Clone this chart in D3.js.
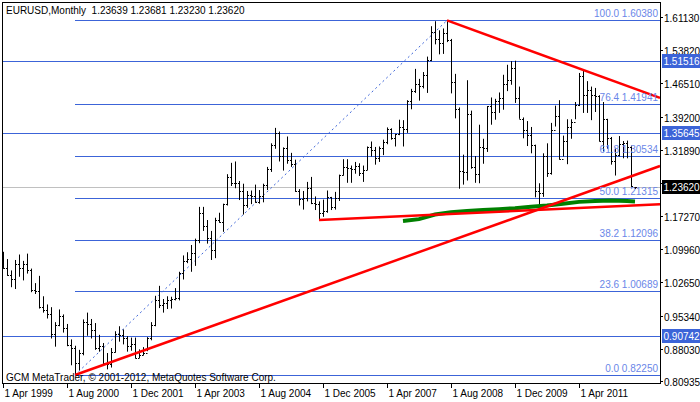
<!DOCTYPE html>
<html><head><meta charset="utf-8">
<script src="https://cdn.jsdelivr.net/npm/d3@7"></script>
<style>body{margin:0;background:#fff}svg{display:block;font-family:"Liberation Sans",Arial,sans-serif}</style>
</head><body><svg id="c" width="700" height="402"></svg>
<script>
// Monthly bars from Apr 1999 (index 0) to Jun 2012 (index 158)
const opens=[1.0765,1.0575,1.0430,1.0330,1.0680,1.0590,1.0680,1.0550,1.0090,
1.0070,0.9730,0.9650,0.9570,0.9120,0.9330,0.9530,0.9270,0.8880,0.8830,0.8480,0.8710,
0.9390,0.9340,0.9210,0.8810,0.8870,0.8480,0.8470,0.8740,0.9120,0.9110,0.9040,0.8870,
0.8900,0.8600,0.8670,0.8720,0.9030,0.9330,0.9870,0.9770,0.9810,0.9870,0.9890,0.9930,
1.0480,1.0730,1.0780,1.0910,1.1190,1.1800,1.1500,1.1240,1.0990,1.1650,1.1590,1.1990,
1.2590,1.2460,1.2460,1.2290,1.1970,1.2200,1.2160,1.2030,1.2170,1.2420,1.2770,1.3290,
1.3550,1.3040,1.3230,1.2960,1.2870,1.2290,1.2100,1.2130,1.2340,1.2020,1.1990,1.1790,
1.1840,1.2150,1.1920,1.2120,1.2630,1.2810,1.2790,1.2760,1.2820,1.2670,1.2740,1.3250,
1.3190,1.3000,1.3230,1.3350,1.3650,1.3450,1.3530,1.3680,1.3640,1.4260,1.4480,1.4640,
1.4590,1.4840,1.5170,1.5790,1.5620,1.5550,1.5760,1.5610,1.4670,1.4080,1.2720,1.2700,
1.3970,1.2810,1.2660,1.3250,1.3230,1.4150,1.4030,1.4260,1.4330,1.4640,1.4720,1.5000,
1.4330,1.3870,1.3630,1.3510,1.3290,1.2270,1.2230,1.3050,1.2680,1.3630,1.3940,1.2980,
1.3380,1.3700,1.3810,1.4170,1.4810,1.4390,1.4500,1.4390,1.4380,1.3390,1.3860,1.3450,
1.2950,1.3080,1.3320,1.3340,1.3240,1.23639];
const highs=[1.0940,1.0780,1.0530,1.0760,1.0880,1.0740,1.0900,1.0570,1.0250,
1.0410,0.9960,0.9780,0.9720,0.9390,0.9670,0.9560,0.9350,0.9010,0.8870,0.8780,0.9450,
0.9600,0.9460,0.9370,0.9110,0.8930,0.8710,0.8820,0.9190,0.9300,0.9230,0.9080,0.9050,
0.9050,0.8790,0.8840,0.9060,0.9390,0.9970,1.0190,0.9900,0.9960,0.9950,1.0140,1.0500,
1.0860,1.0930,1.1090,1.1230,1.1930,1.1930,1.1640,1.1400,1.1690,1.1800,1.2000,1.2650,
1.2900,1.2930,1.2500,1.2440,1.2280,1.2290,1.2420,1.2300,1.2440,1.2810,1.3330,1.3670,
1.3590,1.3240,1.3480,1.3120,1.2970,1.2320,1.2280,1.2480,1.2590,1.2160,1.2050,1.2090,
1.2290,1.2150,1.2260,1.2640,1.2980,1.2980,1.2840,1.2920,1.2890,1.2840,1.3260,1.3370,
1.3250,1.3260,1.3410,1.3680,1.3660,1.3540,1.3850,1.3840,1.4280,1.4530,1.4970,1.4750,
1.4900,1.5240,1.5910,1.6020,1.5820,1.5860,1.6038,1.5630,1.4860,1.4120,1.3080,1.4720,
1.4050,1.3050,1.3740,1.3430,1.4150,1.4340,1.4310,1.4450,1.4840,1.5060,1.5140,1.5150,
1.4580,1.3900,1.3820,1.3690,1.3300,1.2450,1.3110,1.3330,1.3780,1.4160,1.4280,1.3500,
1.3860,1.3860,1.4240,1.4880,1.4940,1.4700,1.4580,1.4550,1.4390,1.4240,1.3870,1.3470,
1.3230,1.3490,1.3380,1.3390,1.3280,1.23681];
const lows=[1.0565,1.0410,1.0160,1.0120,1.0390,1.0310,1.0460,1.0050,1.0010,
0.9690,0.9600,0.9470,0.9030,0.8850,0.9300,0.9160,0.8860,0.8440,0.8225,0.8330,0.8660,
0.9090,0.9030,0.8780,0.8740,0.8440,0.8350,0.8390,0.8720,0.8960,0.8900,0.8740,0.8760,
0.8590,0.8600,0.8660,0.8750,0.8990,0.9300,0.9700,0.9600,0.9680,0.9690,0.9870,0.9870,
1.0330,1.0690,1.0500,1.0630,1.1130,1.1400,1.1120,1.0760,1.0800,1.1580,1.1380,1.1960,
1.2390,1.2340,1.2080,1.1760,1.1910,1.1990,1.2020,1.2000,1.2030,1.2300,1.2700,1.3210,
1.2930,1.2730,1.2880,1.2810,1.2260,1.1960,1.1870,1.2050,1.1990,1.1860,1.1640,1.1710,
1.1800,1.1860,1.1870,1.2060,1.2620,1.2460,1.2460,1.2660,1.2610,1.2480,1.2740,1.3040,
1.2860,1.2920,1.3070,1.3310,1.3410,1.3260,1.3510,1.3260,1.3560,1.4080,1.4440,1.4270,
1.4540,1.4440,1.5140,1.5510,1.5290,1.5300,1.5560,1.4430,1.3880,1.2330,1.2420,1.2510,
1.2770,1.2460,1.2450,1.2880,1.3140,1.3740,1.3850,1.4000,1.4070,1.4480,1.4620,1.4220,
1.3870,1.3440,1.3270,1.3110,1.2140,1.1877,1.2150,1.2590,1.2640,1.3700,1.2970,1.3040,
1.2870,1.3430,1.3860,1.4150,1.4000,1.4000,1.3840,1.4020,1.3370,1.3150,1.3210,1.2860,
1.2620,1.3040,1.3000,1.3000,1.2360,1.23230];
const closes=[1.0575,1.0430,1.0330,1.0680,1.0590,1.0680,1.0550,1.0090,1.0070,
0.9730,0.9650,0.9570,0.9120,0.9330,0.9530,0.9270,0.8880,0.8830,0.8480,0.8710,0.9390,
0.9340,0.9210,0.8810,0.8870,0.8480,0.8470,0.8740,0.9120,0.9110,0.9040,0.8870,0.8900,
0.8600,0.8670,0.8720,0.9030,0.9330,0.9870,0.9770,0.9810,0.9870,0.9890,0.9930,1.0480,
1.0730,1.0780,1.0910,1.1190,1.1800,1.1500,1.1240,1.0990,1.1650,1.1590,1.1990,1.2590,
1.2460,1.2460,1.2290,1.1970,1.2200,1.2160,1.2030,1.2170,1.2420,1.2770,1.3290,1.3550,
1.3040,1.3230,1.2960,1.2870,1.2290,1.2100,1.2130,1.2340,1.2020,1.1990,1.1790,1.1840,
1.2150,1.1920,1.2120,1.2630,1.2810,1.2790,1.2760,1.2820,1.2670,1.2740,1.3250,1.3190,
1.3000,1.3230,1.3350,1.3650,1.3450,1.3530,1.3680,1.3640,1.4260,1.4480,1.4640,1.4590,
1.4840,1.5170,1.5790,1.5620,1.5550,1.5760,1.5610,1.4670,1.4080,1.2720,1.2700,1.3970,
1.2810,1.2660,1.3250,1.3230,1.4150,1.4030,1.4260,1.4330,1.4640,1.4720,1.5000,1.4330,
1.3870,1.3630,1.3510,1.3290,1.2270,1.2230,1.3050,1.2680,1.3630,1.3940,1.2980,1.3380,
1.3700,1.3810,1.4170,1.4810,1.4390,1.4500,1.4390,1.4380,1.3390,1.3860,1.3450,1.2950,
1.3080,1.3320,1.3340,1.3240,1.2380,1.23620];
// Moving average (green) read at month indices
const maIdx=[100,104,108,112,116,120,124,128,132,136,140,144,148,152,156,158];
const maVal=[1.162,1.166,1.176,1.181,1.184,1.186,1.188,1.190,1.193,1.196,1.200,1.204,1.206,1.207,1.206,1.205];
// Fibonacci levels
const fibPct=["100.0","76.4","61.8","50.0","38.2","23.6","0.0"];
const fibVal=[1.60380,1.41941,1.30534,1.21315,1.12096,1.00689,0.82250];
// Horizontal lines (full width) with marked labels
const hLines=[1.51516,1.35645,0.90742];
const currentPrice=1.23620;
// Trendlines: [startIdx,startPrice,endIdx,endPrice]
const trends=[[111,1.6038,164.25,1.433],[18,0.8225,164.25,1.283],[79,1.164,164.25,1.199]];
const fibTrend=[18,0.8225,111,1.6038];
const yTicks=["1.61130","1.53820","1.46510","1.39200","1.31890","1.24580","1.17270","1.09960","1.02650","0.95340","0.88030","0.80935"];
const xLabels=["1 Apr 1999","1 Aug 2000","1 Dec 2001","1 Apr 2003","1 Aug 2004","1 Dec 2005","1 Apr 2007","1 Aug 2008","1 Dec 2009","1 Apr 2011"];
const xLabelIdx=[0,16,32,48,64,80,96,112,128,144];

const svg=d3.select("#c");
const L=2,R=660,T=2,B=383;
const x=d3.scaleLinear().domain([0,164.25]).range([3,660]);
const y=d3.scaleLinear().domain([0.80935,1.61130]).range([381,17]);
const blue="#3c64d8",fibText="#6a86e8";
const FS=10;
const g=svg.append("g");
fibVal.forEach(v=>g.append("line").attr("x1",x(18)).attr("x2",R).attr("y1",Math.round(y(v))+.5).attr("y2",Math.round(y(v))+.5).attr("stroke",blue));
hLines.forEach(v=>g.append("line").attr("x1",L).attr("x2",R).attr("y1",Math.round(y(v))+.5).attr("y2",Math.round(y(v))+.5).attr("stroke",blue));
g.append("line").attr("x1",L).attr("x2",R).attr("y1",Math.round(y(currentPrice))+.5).attr("y2",Math.round(y(currentPrice))+.5).attr("stroke","#c0c0c0");
g.append("line").attr("x1",x(fibTrend[0])).attr("y1",y(fibTrend[1])).attr("x2",x(fibTrend[2])).attr("y2",y(fibTrend[3])).attr("stroke",blue).attr("stroke-dasharray","2,3");
const bars=g.append("g").attr("stroke","#000").attr("stroke-width",1);
opens.forEach((o,i)=>{
  const cx=Math.round(x(i))+.5;
  bars.append("line").attr("x1",cx).attr("x2",cx).attr("y1",y(highs[i])).attr("y2",y(lows[i]));
  bars.append("line").attr("x1",cx-1.5).attr("x2",cx).attr("y1",Math.round(y(o))+.5).attr("y2",Math.round(y(o))+.5);
  bars.append("line").attr("x1",cx).attr("x2",cx+1.5).attr("y1",Math.round(y(closes[i]))+.5).attr("y2",Math.round(y(closes[i]))+.5);
});
g.append("path").datum(maIdx.map((d,i)=>[d,maVal[i]])).attr("d",d3.line().x(d=>x(d[0])).y(d=>y(d[1]))).attr("fill","none").attr("stroke","#008000").attr("stroke-width",4);
trends.forEach(t=>g.append("line").attr("x1",x(t[0])).attr("y1",y(t[1])).attr("x2",x(t[2])).attr("y2",y(t[3])).attr("stroke","#ff0000").attr("stroke-width",2.5));
fibVal.forEach((v,i)=>g.append("text").attr("x",658).attr("y",y(v)-3).attr("text-anchor","end").attr("fill",fibText).attr("font-size",FS).text(fibPct[i]+" "+v.toFixed(5)));
svg.append("rect").attr("x",L+.5).attr("y",T+.5).attr("width",R-L).attr("height",B-T).attr("fill","none").attr("stroke","#000");
yTicks.forEach(t=>{const yy=Math.round(y(+t))+.5;
  svg.append("line").attr("x1",R).attr("x2",R+3).attr("y1",yy).attr("y2",yy).attr("stroke","#000");
  if(t!=="1.24580") svg.append("text").attr("x",664).attr("y",yy+4).attr("font-size",FS).attr("fill","#000").text(t);});
function box(v,fill){const yy=Math.round(y(v));
  svg.append("rect").attr("x",R+2).attr("y",yy-7).attr("width",38).attr("height",14).attr("fill",fill);
  svg.append("text").attr("x",663.5).attr("y",yy+4).attr("font-size",FS).attr("fill","#fff").text(v.toFixed(5));}
hLines.forEach(v=>box(v,"#3c64d8"));
box(currentPrice,"#000");
xLabelIdx.forEach((d,i)=>{const xx=Math.round(x(d))+.5;
  svg.append("line").attr("x1",xx).attr("x2",xx).attr("y1",B).attr("y2",B+5).attr("stroke","#000");
  svg.append("text").attr("x",xx+1).attr("y",397).attr("font-size",FS).text(xLabels[i]);});
svg.append("text").attr("x",6).attr("y",14).attr("font-size",FS).attr("xml:space","preserve").text("EURUSD,Monthly  1.23639 1.23681 1.23230 1.23620");
svg.append("text").attr("x",6).attr("y",381).attr("font-size",FS).text("GCM MetaTrader, © 2001-2012, MetaQuotes Software Corp.");
</script></body></html>
